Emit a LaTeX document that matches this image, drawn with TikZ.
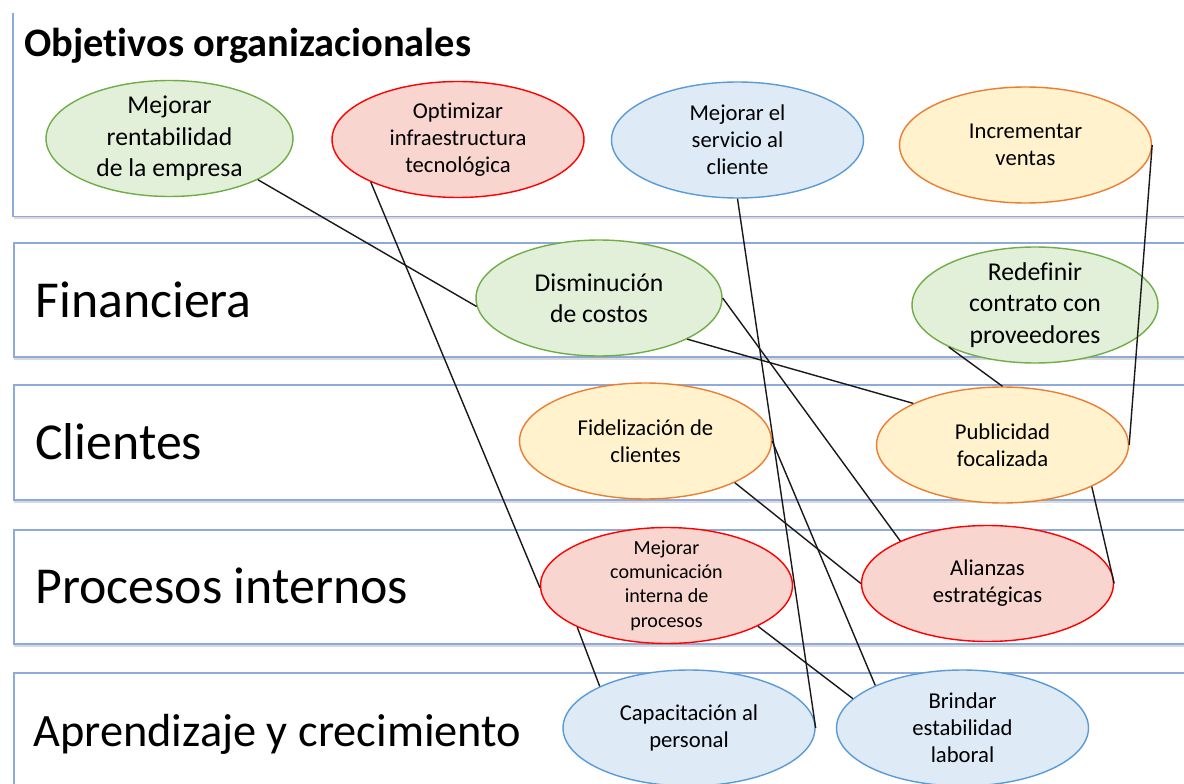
\documentclass[tikz,border=0pt]{standalone}
\usepackage{fontspec}
\setmainfont{Carlito}[Ligatures=NoCommon]
\usetikzlibrary{shapes.geometric,shadows}

\definecolor{bandazul}{HTML}{8EAADB}
\definecolor{verdeB}{HTML}{70AD47}
\definecolor{verdeF}{HTML}{E2F0D9}
\definecolor{rojoB}{HTML}{FF0000}
\definecolor{rojoF}{HTML}{F9D5D0}
\definecolor{azulB}{HTML}{5B9BD5}
\definecolor{azulF}{HTML}{DEEBF7}
\definecolor{naranjaB}{HTML}{ED7D31}
\definecolor{naranjaF}{HTML}{FFF2CC}

\tikzset{
  banda/.style={rectangle, draw=bandazul, line width=0.9pt, fill=white, anchor=north west,
    inner sep=0pt, minimum width=23.74cm,
    drop shadow={shadow xshift=0.4pt, shadow yshift=-2pt, opacity=0.3}},
  etiqueta/.style={anchor=base west, inner sep=0pt, font=\fontsize{29.5}{35}\selectfont},
  obj/.style={ellipse, minimum width=5.04cm, minimum height=2.32cm, inner sep=0pt,
    align=center, line width=0.8pt, font=\fontsize{12.9}{15.4}\selectfont},
  grande/.style={font=\fontsize{14.6}{17.9}\selectfont, inner ysep=-5pt},
  chica/.style={font=\fontsize{11.4}{13.9}\selectfont, inner ysep=-5pt},
  verde/.style={obj, draw=verdeB, fill=verdeF},
  rojo/.style={obj, draw=rojoB, fill=rojoF},
  azul/.style={obj, draw=azulB, fill=azulF},
  naranja/.style={obj, draw=naranjaB, fill=naranjaF},
  enlace/.style={line width=0.8pt, black!90}
}

\begin{document}
\begin{tikzpicture}[x=0.02cm, y=-0.02cm]
  \useasboundingbox (0,0) rectangle (1184,784);

  %bandas
  \node[banda, draw=none, minimum height=4.04cm] (bObj) at (13,13) {};
  \draw[bandazul, line width=0.9pt] (bObj.north west) -- (bObj.south west) -- (bObj.south east);
  \node[banda, minimum height=2.28cm] (bFin) at (13,242) {};
  \node[banda, minimum height=2.30cm] (bCli) at (13,384) {};
  \node[banda, minimum height=2.28cm] (bPro) at (13,529) {};
  \node[banda, minimum height=2.60cm] (bApr) at (13,672) {};

  %titulos
  \node[anchor=base west, inner sep=0pt, font=\bfseries\fontsize{23}{27}\selectfont] (tObj) at (24,57) {Objetivos organizacionales};
  \node[etiqueta] (tFin) at (35,317) {Financiera};
  \node[etiqueta] (tCli) at (35,459) {Clientes};
  \node[etiqueta] (tPro) at (35,603) {Procesos internos};
  \node[etiqueta, font=\fontsize{26.4}{31}\selectfont] (tApr) at (33,746) {Aprendizaje y crecimiento};

  %objetivos organizacionales
  \node[verde, grande, minimum width=4.94cm] (rent) at (169.5,138.5) {Mejorar\\rentabilidad\\de la empresa};
  \node[rojo] (opt) at (458,139.5) {Optimizar\\infraestructura\\tecnológica};
  \node[azul] (serv) at (737.5,140) {Mejorar el\\servicio al\\cliente};
  \node[naranja] (incr) at (1025.5,145) {Incrementar\\ventas};

  %financiera
  \node[verde, grande, minimum width=4.92cm] (dism) at (599,298) {Disminución\\de costos};
  \node[verde, grande, minimum width=4.92cm] (redef) at (1035,305) {Redefinir\\contrato con\\proveedores};

  %clientes
  \node[naranja] (fidel) at (645.5,441) {Fidelización de\\clientes};
  \node[naranja] (publ) at (1002.5,445) {Publicidad\\focalizada};

  %procesos internos
  \node[rojo, chica] (comu) at (666.5,585.5) {Mejorar\\comunicación\\interna de\\procesos};
  \node[rojo] (ali) at (987.5,583.5) {Alianzas\\estratégicas};

  %aprendizaje y crecimiento
  \node[azul] (capa) at (689,728) {Capacitación al\\personal};
  \node[azul] (brin) at (962.5,728) {Brindar\\estabilidad\\laboral};

  %relaciones
  \draw[enlace] (rent.-25) -- (dism.184);
  \draw[enlace] (opt.-154.5) -- (comu.181);
  \draw[enlace] (serv.south) -- (capa.east);
  \draw[enlace] (incr.east) -- (publ.east);
  \draw[enlace] (dism.east) -- (ali.154.6);
  \draw[enlace] (dism.-25) -- (publ.155);
  \draw[enlace] (redef.-154.5) -- (publ.north);
  \draw[enlace] (fidel.-25) -- (ali.west);
  \draw[enlace] (publ.-25) -- (ali.east);
  \draw[enlace] (comu.-24.4) -- (brin.165);
  \draw[enlace] (fidel.east) -- (brin.154.3);
  \draw[enlace] (comu.-155) -- (capa.155);
\end{tikzpicture}
\end{document}
